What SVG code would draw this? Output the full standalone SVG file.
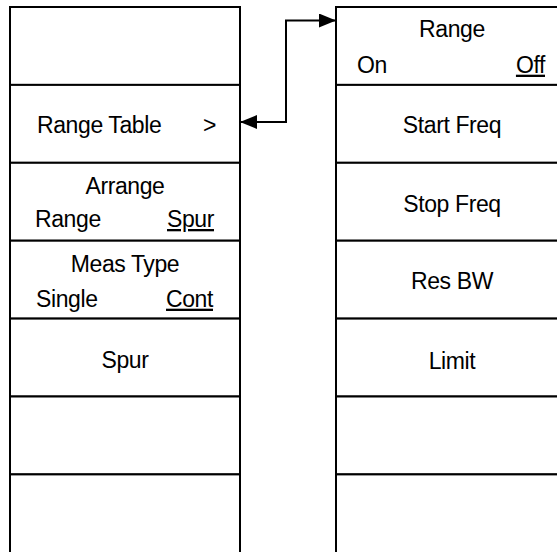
<svg xmlns="http://www.w3.org/2000/svg" width="557" height="552" viewBox="0 0 557 552">
  <style>
    .cell { fill: #ffffff; stroke: #000000; stroke-width: 2; }
    .t { font-family: "Liberation Sans", Arial, sans-serif; font-size: 23px; letter-spacing: -0.4px; fill: #000000; }
    .c { text-anchor: middle; }
    .e { text-anchor: end; }
    .u { text-decoration: underline; }
    .conn { fill: none; stroke: #000000; stroke-width: 2; }
  </style>
  <defs>
    <marker id="arrow" markerUnits="userSpaceOnUse" markerWidth="17" markerHeight="14" refX="16" refY="7" orient="auto-start-reverse">
      <path d="M0,0 L17,7 L0,14 Z" fill="#000000"/>
    </marker>
  </defs>
  <rect width="557" height="552" fill="#ffffff"/>

  <!-- Left menu -->
  <g id="left-1"><rect class="cell" x="10" y="7" width="230" height="77.9"/></g>
  <g id="left-range-table">
    <rect class="cell" x="10" y="84.9" width="230" height="77.9"/>
    <text class="t" x="37" y="132.7">Range Table</text>
    <text class="t" x="203" y="132.7">&gt;</text>
  </g>
  <g id="left-arrange">
    <rect class="cell" x="10" y="162.8" width="230" height="77.9"/>
    <text class="t c" x="125" y="194">Arrange</text>
    <text class="t" x="35" y="227">Range</text>
    <text class="t e u" x="214" y="227">Spur</text>
  </g>
  <g id="left-meas-type">
    <rect class="cell" x="10" y="240.7" width="230" height="77.9"/>
    <text class="t c" x="125" y="271.7">Meas Type</text>
    <text class="t" x="36" y="306.7">Single</text>
    <text class="t e u" x="213" y="306.7">Cont</text>
  </g>
  <g id="left-spur">
    <rect class="cell" x="10" y="318.6" width="230" height="77.9"/>
    <text class="t c" x="125" y="367.5">Spur</text>
  </g>
  <g id="left-6"><rect class="cell" x="10" y="396.5" width="230" height="77.9"/></g>
  <g id="left-7"><rect class="cell" x="10" y="474.4" width="230" height="90"/></g>

  <!-- Right menu -->
  <g id="right-range">
    <rect class="cell" x="336" y="7" width="232" height="77.9"/>
    <text class="t c" x="452" y="36.7">Range</text>
    <text class="t" x="357" y="72.7">On</text>
    <text class="t e u" x="545" y="72.7">Off</text>
  </g>
  <g id="right-start-freq">
    <rect class="cell" x="336" y="84.9" width="232" height="77.9"/>
    <text class="t c" x="452" y="133.3">Start Freq</text>
  </g>
  <g id="right-stop-freq">
    <rect class="cell" x="336" y="162.8" width="232" height="77.9"/>
    <text class="t c" x="452" y="212">Stop Freq</text>
  </g>
  <g id="right-res-bw">
    <rect class="cell" x="336" y="240.7" width="232" height="77.9"/>
    <text class="t c" x="452" y="289">Res BW</text>
  </g>
  <g id="right-limit">
    <rect class="cell" x="336" y="318.6" width="232" height="77.9"/>
    <text class="t c" x="452" y="368.5">Limit</text>
  </g>
  <g id="right-6"><rect class="cell" x="336" y="396.5" width="232" height="77.9"/></g>
  <g id="right-7"><rect class="cell" x="336" y="474.4" width="232" height="90"/></g>

  <!-- Connectors -->
  <g id="connectors">
    <path class="conn" d="M241,122 L286,122 L286,20.5 L335,20.5" marker-start="url(#arrow)" marker-end="url(#arrow)"/>
  </g>
</svg>
